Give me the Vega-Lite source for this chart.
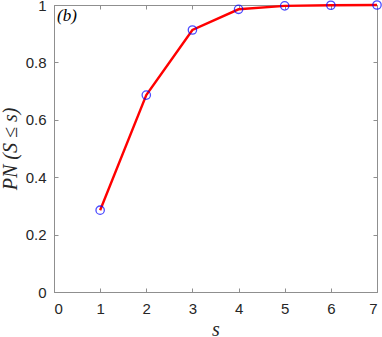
{
  "$schema": "https://vega.github.io/schema/vega-lite/v6.json",
  "autosize": "none",
  "width": 323,
  "height": 287,
  "padding": {"left": 54, "top": 5, "right": 5, "bottom": 45},
  "background": "white",
  "config": {
    "view": {"stroke": "#8f8f8f", "strokeWidth": 1},
    "axis": {
      "grid": false,
      "domainColor": "#8f8f8f",
      "tickColor": "#8f8f8f",
      "tickSize": -4,
      "labelFont": "Liberation Sans",
      "labelFontSize": 15,
      "labelColor": "#262626",
      "titleFont": "Liberation Serif",
      "titleFontStyle": "italic",
      "titleFontWeight": "normal",
      "titleFontSize": 20,
      "titleColor": "#262626"
    }
  },
  "data": {"values": [
    {"s": 1, "p": 0.285},
    {"s": 2, "p": 0.686},
    {"s": 3, "p": 0.913},
    {"s": 4, "p": 0.985},
    {"s": 5, "p": 0.997},
    {"s": 6, "p": 0.999},
    {"s": 7, "p": 1.0}
  ]},
  "layer": [
    {
      "mark": {"type": "line", "color": "#ff0000", "strokeWidth": 2.4},
      "encoding": {
        "x": {"field": "s", "type": "quantitative", "scale": {"domain": [0, 7], "nice": false},
              "axis": {"title": "s", "values": [0,1,2,3,4,5,6,7], "labelPadding": 13, "titlePadding": 3}},
        "y": {"field": "p", "type": "quantitative", "scale": {"domain": [0, 1], "nice": false},
              "axis": {"title": "PN (S ≤ s)", "values": [0,0.2,0.4,0.6,0.8,1], "format": "~g", "labelPadding": 12, "titlePadding": 5}}
      }
    },
    {
      "mark": {"type": "point", "shape": "circle", "filled": false, "color": "#0000ff", "size": 70, "strokeWidth": 1.3},
      "encoding": {
        "x": {"field": "s", "type": "quantitative", "axis": null},
        "y": {"field": "p", "type": "quantitative", "axis": null}
      }
    },
    {
      "mark": {"type": "line", "opacity": 0},
      "encoding": {
        "x": {"field": "s", "type": "quantitative",
              "axis": {"orient": "top", "labels": false, "title": null, "domain": false, "values": [0,1,2,3,4,5,6,7]}},
        "y": {"field": "p", "type": "quantitative",
              "axis": {"orient": "right", "labels": false, "title": null, "domain": false, "values": [0,0.2,0.4,0.6,0.8,1]}}
      }
    },
    {
      "data": {"values": [{"s": 0, "p": 1, "label": "(b)"}]},
      "mark": {"type": "text", "font": "Liberation Serif", "fontStyle": "italic", "fontSize": 17, "align": "left", "baseline": "top", "dx": 3, "dy": 3, "color": "#000000"},
      "encoding": {
        "x": {"field": "s", "type": "quantitative", "axis": null},
        "y": {"field": "p", "type": "quantitative", "axis": null},
        "text": {"field": "label"}
      }
    }
  ],
  "resolve": {"axis": {"x": "independent", "y": "independent"}}
}
